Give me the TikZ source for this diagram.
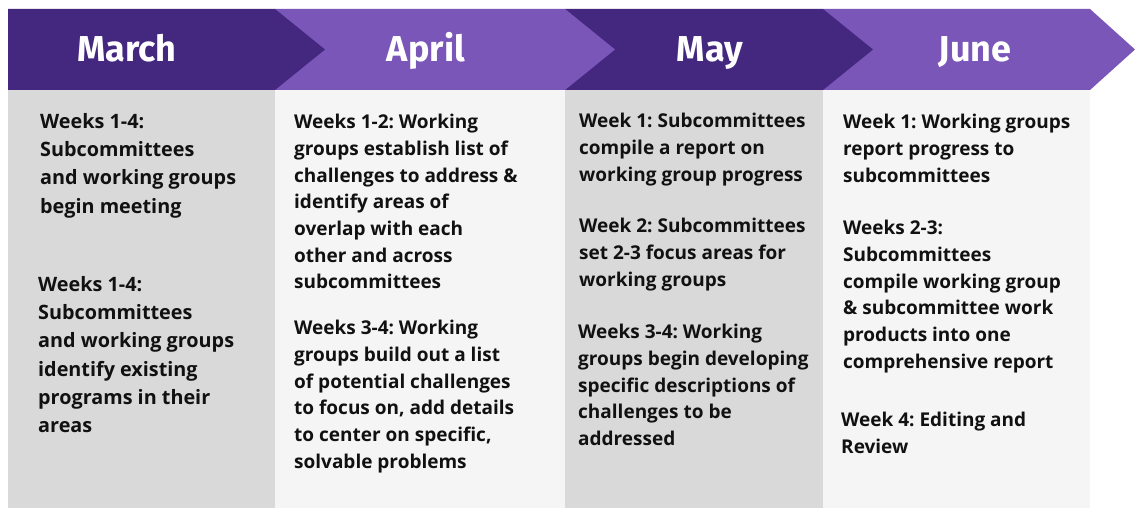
\documentclass[tikz,border=0pt]{standalone}
\usepackage{fontspec}
\setmainfont{Open Sans}
\newfontfamily\headfont{Fira Sans}
\frenchspacing
\definecolor{darkpurple}{HTML}{44277F}
\definecolor{lightpurple}{HTML}{7956B8}
\definecolor{colgray}{HTML}{D9D9D9}
\definecolor{collight}{HTML}{F5F5F5}
\definecolor{bodytext}{HTML}{111111}
\tikzset{
  head/.style={font=\headfont\bfseries\fontsize{36}{40}\selectfont, text=white, inner sep=0pt, anchor=base},
  body/.style={font=\bfseries\fontsize{19}{26.7}\selectfont, text=bodytext, align=left, anchor=north west, inner sep=0pt},
  bodybig/.style={body, font=\bfseries\fontsize{19.8}{28.3}\selectfont},
}
\begin{document}
\begin{tikzpicture}[x=1pt,y=-1pt]
\useasboundingbox (0,0) rectangle (1135,508);
\fill[white] (0,0) rectangle (1135,508);
% columns
\fill[colgray] (8,90) rectangle (275,508);
\fill[collight] (275,90) rectangle (565,508);
\fill[colgray] (565,90) rectangle (823,508);
\fill[collight] (823,90) rectangle (1090,508);
% header arrows (right to left so tips overlap)
\fill[lightpurple] (823,9) -- (1090,9) -- (1135,49.5) -- (1090,90) -- (823,90) -- cycle;
\fill[darkpurple] (565,9) -- (823,9) -- (873,49.5) -- (823,90) -- (565,90) -- cycle;
\fill[lightpurple] (275,9) -- (565,9) -- (615,49.5) -- (565,90) -- (275,90) -- cycle;
\fill[darkpurple] (8,9) -- (275,9) -- (325,49.5) -- (275,90) -- (8,90) -- cycle;
% header labels
\node[head] (march) at (127,62) {March};
\node[head] (april) at (426,62) {April};
\node[head] (may) at (710,62) {May};
\node[head] (june) at (975,62) {June};
% March
\node[bodybig] (m1) at (40,113) {Weeks 1-4:\\Subcommittees\\and working groups\\begin meeting};
\node[bodybig] (m2) at (38,276) {Weeks 1-4:\\Subcommittees\\and working groups\\identify existing\\programs in their\\areas};
% April
\node[body] (a1) at (294,114) {Weeks 1-2: Working\\groups establish list of\\challenges to address \&\\identify areas of\\overlap with each\\other and across\\subcommittees};
\node[body] (a2) at (294,320) {Weeks 3-4: Working\\groups build out a list\\of potential challenges\\to focus on, add details\\to center on specific,\\solvable problems};
% May
\node[body] (y1) at (579,113) {Week 1: Subcommittees\\compile a report on\\working group progress};
\node[body] (y2) at (579,218) {Week 2: Subcommittees\\set 2-3 focus areas for\\working groups};
\node[body] (y3) at (578,324) {Weeks 3-4: Working\\groups begin developing\\specific descriptions of\\challenges to be\\addressed};
% June
\node[body] (j1) at (843,114) {Week 1: Working groups\\report progress to\\subcommittees};
\node[body] (j2) at (843,220) {Weeks 2-3:\\Subcommittees\\compile working group\\\& subcommittee work\\products into one\\comprehensive report};
\node[body] (j3) at (841,412) {Week 4: Editing and\\Review};
\end{tikzpicture}
\end{document}
